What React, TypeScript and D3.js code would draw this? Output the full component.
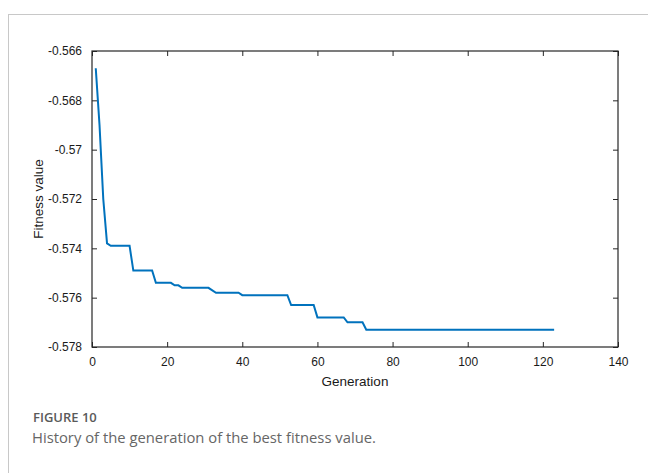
import * as d3 from 'd3';
import React, { useEffect, useRef } from 'react';

// best fitness per generation (vertices of the convergence curve)
const generations = [1, 2, 3, 4, 5, 10, 11, 16, 17, 21, 22, 23, 24, 31, 33, 39, 40, 52, 53, 59, 60, 67, 68, 72, 73, 123];
const fitness = [
  -0.5667, -0.569, -0.572, -0.5738, -0.5739, -0.5739, -0.5749, -0.5749, -0.5754, -0.5754,
  -0.5755, -0.5755, -0.5756, -0.5756, -0.5758, -0.5758, -0.5759, -0.5759, -0.5763, -0.5763,
  -0.5768, -0.5768, -0.577, -0.577, -0.5773, -0.5773,
];
const xTicks = [0, 20, 40, 60, 80, 100, 120, 140];
const yTicks = [-0.566, -0.568, -0.57, -0.572, -0.574, -0.576, -0.578];
const yTickLabels = ['-0.566', '-0.568', '-0.57', '-0.572', '-0.574', '-0.576', '-0.578'];

const W = 648;
const H = 473;

const App: React.FC = () => {
  const svgRef = useRef<SVGSVGElement>(null);

  useEffect(() => {
    if (!svgRef.current) return;
    const svg = d3.select(svgRef.current);
    svg.selectAll('*').remove();

    const margin = { top: 51, right: 30, bottom: 126, left: 92 };
    const innerWidth = W - margin.left - margin.right;
    const innerHeight = H - margin.top - margin.bottom;

    // page frame lines
    svg.append('line')
      .attr('x1', 8).attr('x2', W).attr('y1', 14.5).attr('y2', 14.5)
      .attr('stroke', '#c8c8c8').attr('stroke-width', 1);
    svg.append('line')
      .attr('x1', 8.5).attr('x2', 8.5).attr('y1', 14).attr('y2', H)
      .attr('stroke', '#c8c8c8').attr('stroke-width', 1);

    const g = svg.append('g')
      .attr('transform', `translate(${margin.left}, ${margin.top})`);

    const x = d3.scaleLinear().domain([0, 140]).range([0, innerWidth]);
    const y = d3.scaleLinear().domain([-0.578, -0.566]).range([innerHeight, 0]);

    const tickFont = (sel: any) => sel.selectAll('text')
      .style('font-size', '12px')
      .style('font-family', 'Arial, "Liberation Sans", sans-serif')
      .attr('fill', '#1a1a1a');

    const styleAxis = (sel: any) => {
      sel.select('.domain').remove();
      sel.selectAll('line').attr('stroke', '#262626').attr('stroke-width', 1);
    };

    // bottom axis (ticks point inward)
    const bottom = g.append('g')
      .attr('transform', `translate(0, ${innerHeight})`)
      .call(d3.axisBottom(x).tickValues(xTicks).tickSize(-5).tickPadding(10).tickFormat(d3.format('d')));
    styleAxis(bottom);
    tickFont(bottom);

    const top = g.append('g')
      .call(d3.axisTop(x).tickValues(xTicks).tickSize(-5).tickFormat(() => ''));
    styleAxis(top);

    const left = g.append('g')
      .call(d3.axisLeft(y).tickValues(yTicks).tickSize(-5).tickPadding(10)
        .tickFormat((_d, i) => yTickLabels[i]));
    styleAxis(left);
    tickFont(left);

    const right = g.append('g')
      .attr('transform', `translate(${innerWidth}, 0)`)
      .call(d3.axisRight(y).tickValues(yTicks).tickSize(-5).tickFormat(() => ''));
    styleAxis(right);

    // axes box
    g.append('rect')
      .attr('x', 0).attr('y', 0)
      .attr('width', innerWidth).attr('height', innerHeight)
      .attr('fill', 'none')
      .attr('stroke', '#262626')
      .attr('stroke-width', 1.2);

    const data = generations.map((gen, i) => ({ gen, val: fitness[i] }));
    const line = d3.line<{ gen: number; val: number }>()
      .x(d => x(d.gen))
      .y(d => y(d.val));

    g.append('path')
      .datum(data)
      .attr('d', line)
      .attr('fill', 'none')
      .attr('stroke', '#0072BD')
      .attr('stroke-width', 2);

    // axis labels
    svg.append('text')
      .attr('x', margin.left + innerWidth / 2)
      .attr('y', 386)
      .attr('text-anchor', 'middle')
      .style('font-size', '13.5px')
      .style('font-family', 'Arial, "Liberation Sans", sans-serif')
      .attr('fill', '#1a1a1a')
      .text('Generation');

    svg.append('text')
      .attr('transform', `translate(43, ${margin.top + innerHeight / 2}) rotate(-90)`)
      .attr('text-anchor', 'middle')
      .style('font-size', '13.5px')
      .style('font-family', 'Arial, "Liberation Sans", sans-serif')
      .attr('fill', '#1a1a1a')
      .text('Fitness value');

    // caption
    svg.append('text')
      .attr('x', 33)
      .attr('y', 422)
      .style('font-size', '13px')
      .style('font-family', '"Open Sans", sans-serif')
      .style('font-weight', 600)
      .attr('fill', '#5a5a5a')
      .text('FIGURE 10');

    svg.append('text')
      .attr('x', 32)
      .attr('y', 443)
      .style('font-size', '14.8px')
      .style('font-family', '"Open Sans", sans-serif')
      .attr('fill', '#666')
      .text('History of the generation of the best fitness value.');
  }, []);

  return (
    <svg
      ref={svgRef}
      width={W}
      height={H}
      style={{ position: 'absolute', left: 0, top: 0, background: '#fff' }}
    />
  );
};

export default App;
